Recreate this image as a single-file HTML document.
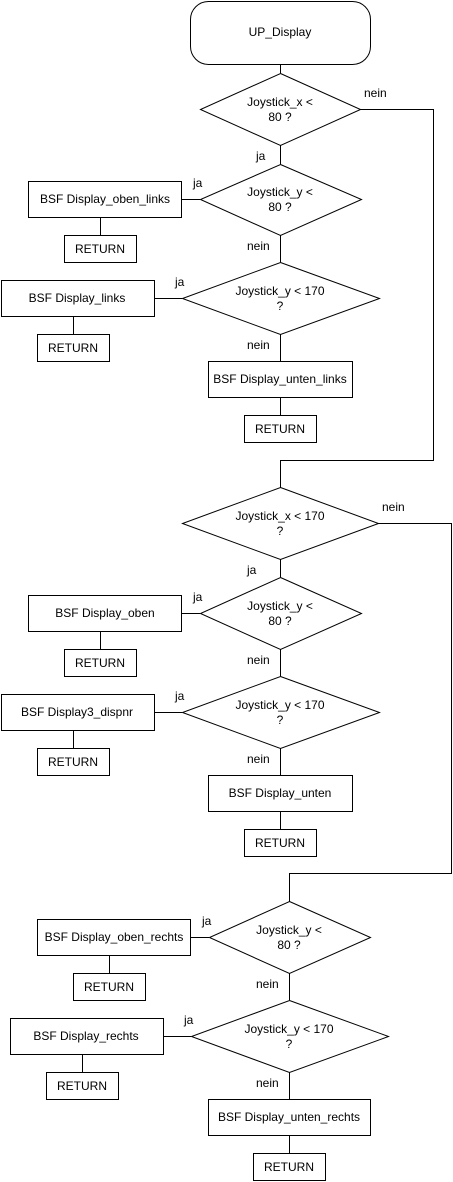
<!DOCTYPE html>
<html><head><meta charset="utf-8"><style>
html,body{margin:0;padding:0;background:#fff;}
svg{display:block;}
text{font-family:"Liberation Sans",Arial,sans-serif;font-size:12px;fill:#000;}
</style></head><body>
<svg width="453" height="1182" viewBox="0 0 453 1182" xmlns="http://www.w3.org/2000/svg">
<g fill="none" stroke="#000" stroke-width="1" shape-rendering="crispEdges">
<rect x="190.5" y="1.5" width="180" height="63" rx="18" shape-rendering="auto"/>
<line x1="280.5" y1="64" x2="280.5" y2="73"/>
<polygon points="280.5,73.5 360.5,109.5 280.5,145.5 200.5,109.5" shape-rendering="auto"/>
<polyline points="360.5,109.5 433.5,109.5 433.5,460.5 280.5,460.5 280.5,487.5"/>
<line x1="280.5" y1="145" x2="280.5" y2="164"/>
<polygon points="280.5,164.5 361.5,199.5 280.5,235.5 200.5,199.5" shape-rendering="auto"/>
<rect x="28.5" y="181.5" width="153" height="36"/>
<line x1="181" y1="199.5" x2="200" y2="199.5"/>
<line x1="100.5" y1="217" x2="100.5" y2="235"/>
<rect x="64.5" y="235.5" width="72" height="27"/>
<line x1="280.5" y1="235" x2="280.5" y2="262"/>
<polygon points="280.5,262.5 379.5,298.5 280.5,334.5 182.5,298.5" shape-rendering="auto"/>
<rect x="1.5" y="280.5" width="153" height="36"/>
<line x1="154" y1="298.5" x2="182" y2="298.5"/>
<line x1="73.5" y1="316" x2="73.5" y2="334"/>
<rect x="37.5" y="334.5" width="72" height="27"/>
<line x1="280.5" y1="334" x2="280.5" y2="361"/>
<rect x="208.5" y="361.5" width="144" height="36"/>
<line x1="280.5" y1="397" x2="280.5" y2="415"/>
<rect x="244.5" y="415.5" width="72" height="27"/>
<polygon points="280.5,487.5 378.5,523.5 280.5,559.5 182.5,523.5" shape-rendering="auto"/>
<polyline points="378.5,523.5 451.5,523.5 451.5,873.5 289.5,873.5 289.5,901.5"/>
<line x1="280.5" y1="559" x2="280.5" y2="577"/>
<polygon points="280.5,577.5 361.5,613.5 280.5,649.5 200.5,613.5" shape-rendering="auto"/>
<rect x="28.5" y="595.5" width="153" height="36"/>
<line x1="181" y1="613.5" x2="200" y2="613.5"/>
<line x1="100.5" y1="631" x2="100.5" y2="649"/>
<rect x="64.5" y="649.5" width="72" height="27"/>
<line x1="280.5" y1="649" x2="280.5" y2="676"/>
<polygon points="280.5,676.5 379.5,712.5 280.5,748.5 182.5,712.5" shape-rendering="auto"/>
<rect x="1.5" y="694.5" width="153" height="36"/>
<line x1="154" y1="712.5" x2="182" y2="712.5"/>
<line x1="73.5" y1="730" x2="73.5" y2="748"/>
<rect x="37.5" y="748.5" width="72" height="27"/>
<line x1="280.5" y1="748" x2="280.5" y2="775"/>
<rect x="208.5" y="775.5" width="144" height="36"/>
<line x1="280.5" y1="811" x2="280.5" y2="829"/>
<rect x="244.5" y="829.5" width="72" height="27"/>
<polygon points="289.5,901.5 370.5,937.5 289.5,973.5 209.5,937.5" shape-rendering="auto"/>
<rect x="37.5" y="919.5" width="153" height="36"/>
<line x1="190" y1="937.5" x2="209" y2="937.5"/>
<line x1="109.5" y1="955" x2="109.5" y2="973"/>
<rect x="73.5" y="973.5" width="72" height="27"/>
<line x1="289.5" y1="973" x2="289.5" y2="1000"/>
<polygon points="289.5,1000.5 388.5,1036.5 289.5,1072.5 191.5,1036.5" shape-rendering="auto"/>
<rect x="10.5" y="1018.5" width="153" height="36"/>
<line x1="163" y1="1036.5" x2="191" y2="1036.5"/>
<line x1="82.5" y1="1054" x2="82.5" y2="1072"/>
<rect x="46.5" y="1072.5" width="72" height="27"/>
<line x1="289.5" y1="1072" x2="289.5" y2="1099"/>
<rect x="208.5" y="1099.5" width="162" height="36"/>
<line x1="289.5" y1="1135" x2="289.5" y2="1153"/>
<rect x="253.5" y="1153.5" width="72" height="27"/>
</g>
<g text-anchor="middle">
<text x="280" y="36">UP_Display</text>
<text x="280" y="106">Joystick_x &lt;</text><text x="280" y="121">80 ?</text>
<text x="280" y="196">Joystick_y &lt;</text><text x="280" y="211">80 ?</text>
<text x="280" y="295">Joystick_y &lt; 170</text><text x="280" y="310">?</text>
<text x="105" y="203">BSF Display_oben_links</text>
<text x="100" y="253">RETURN</text>
<text x="77" y="302">BSF Display_links</text>
<text x="73" y="352">RETURN</text>
<text x="280" y="383">BSF Display_unten_links</text>
<text x="280" y="433">RETURN</text>
<text x="280" y="520">Joystick_x &lt; 170</text><text x="280" y="535">?</text>
<text x="280" y="610">Joystick_y &lt;</text><text x="280" y="625">80 ?</text>
<text x="280" y="709">Joystick_y &lt; 170</text><text x="280" y="724">?</text>
<text x="105" y="617">BSF Display_oben</text>
<text x="100" y="667">RETURN</text>
<text x="77" y="716">BSF Display3_dispnr</text>
<text x="73" y="766">RETURN</text>
<text x="280" y="797">BSF Display_unten</text>
<text x="280" y="847">RETURN</text>
<text x="289" y="934">Joystick_y &lt;</text><text x="289" y="949">80 ?</text>
<text x="289" y="1033">Joystick_y &lt; 170</text><text x="289" y="1048">?</text>
<text x="114" y="941">BSF Display_oben_rechts</text>
<text x="109" y="991">RETURN</text>
<text x="86" y="1040">BSF Display_rechts</text>
<text x="82" y="1090">RETURN</text>
<text x="289" y="1121">BSF Display_unten_rechts</text>
<text x="289" y="1171">RETURN</text>
</g>
<g>
<text x="364" y="97">nein</text>
<text x="256" y="160">ja</text>
<text x="193" y="187">ja</text>
<text x="247" y="250">nein</text>
<text x="175" y="286">ja</text>
<text x="247" y="349">nein</text>
<text x="382" y="511">nein</text>
<text x="247" y="574">ja</text>
<text x="193" y="601">ja</text>
<text x="247" y="664">nein</text>
<text x="175" y="700">ja</text>
<text x="247" y="763">nein</text>
<text x="202" y="925">ja</text>
<text x="256" y="988">nein</text>
<text x="184" y="1024">ja</text>
<text x="256" y="1087">nein</text>
</g>
</svg>
</body></html>
